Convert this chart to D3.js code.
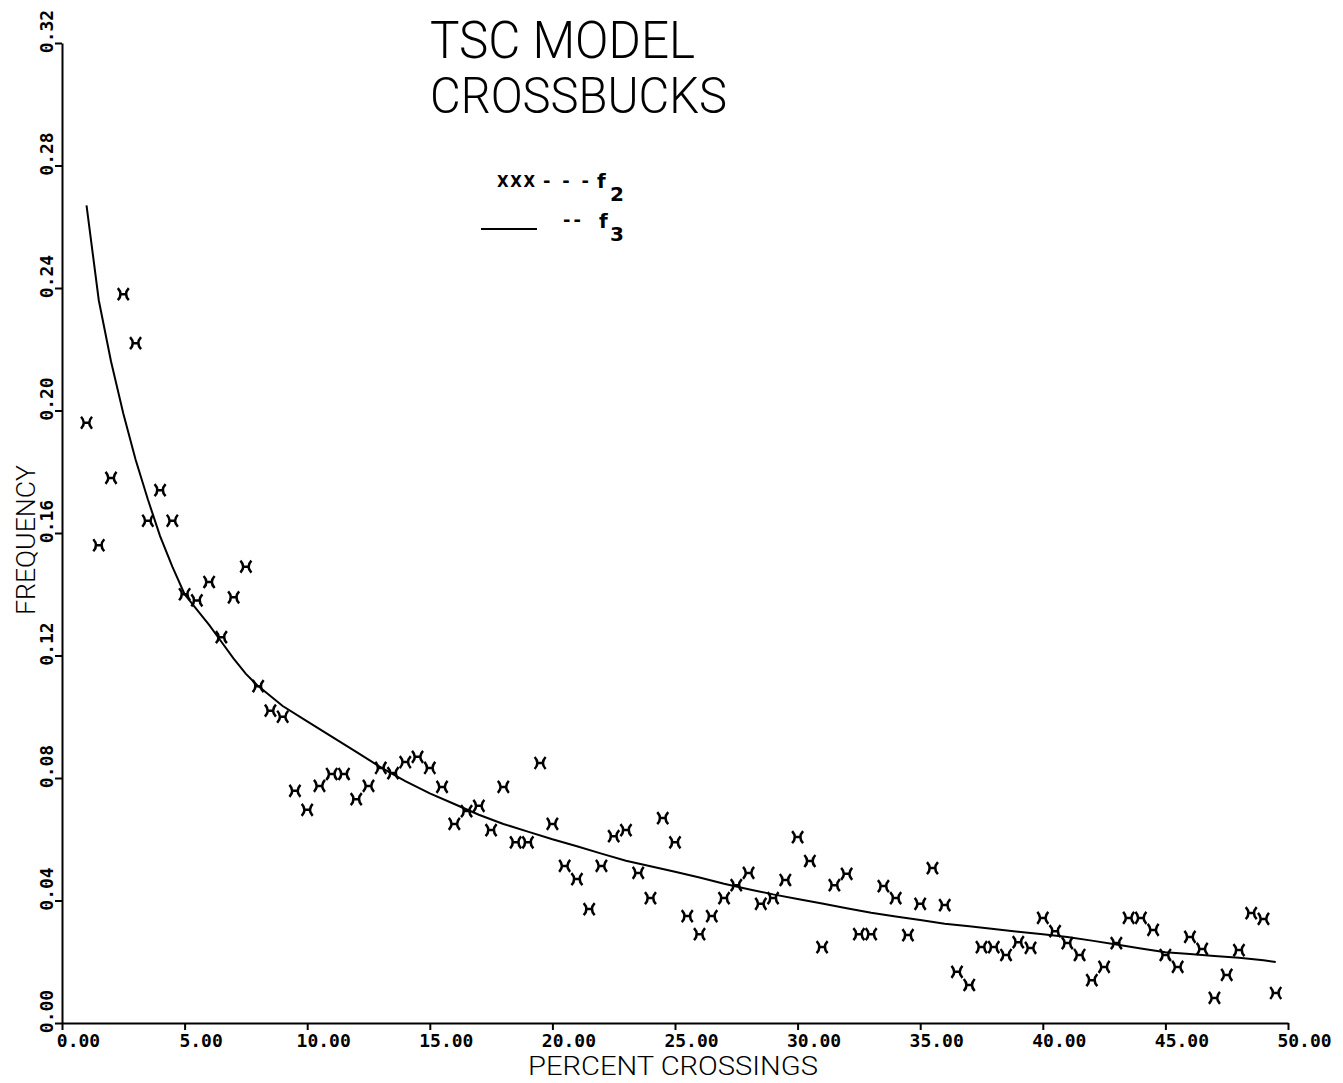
<!DOCTYPE html>
<html>
<head>
<meta charset="utf-8">
<script src="https://cdn.jsdelivr.net/npm/d3@7"></script>
<style>
  body { margin: 0; background: #fff; }
  svg { display: block; }
  .axis path, .axis line { stroke: #000; stroke-width: 2; }
  .axis text { font-family: "DejaVu Sans Mono", monospace; font-size: 18px; font-weight: bold; fill: #000; }
</style>
</head>
<body>
<svg id="chart"></svg>
<script>
// percent crossings where f2 was observed
var pct = [1.0, 1.5, 2.0, 2.5, 3.0, 3.5, 4.0, 4.5, 5.0, 5.5, 6.0, 6.5, 7.0, 7.5, 8.0, 8.5, 9.0, 9.5, 10.0, 10.5,
  11.0, 11.5, 12.0, 12.5, 13.0, 13.5, 14.0, 14.5, 15.0, 15.5, 16.0, 16.5, 17.0, 17.5, 18.0, 18.5, 19.0, 19.5, 20.0, 20.5,
  21.0, 21.5, 22.0, 22.5, 23.0, 23.5, 24.0, 24.5, 25.0, 25.5, 26.0, 26.5, 27.0, 27.5, 28.0, 28.5, 29.0, 29.5, 30.0, 30.5,
  31.0, 31.5, 32.0, 32.5, 33.0, 33.5, 34.0, 34.5, 35.0, 35.5, 36.0, 36.5, 37.0, 37.5, 38.0, 38.5, 39.0, 39.5, 40.0, 40.5,
  41.0, 41.5, 42.0, 42.5, 43.0, 43.5, 44.0, 44.5, 45.0, 45.5, 46.0, 46.5, 47.0, 47.5, 48.0, 48.5, 49.0, 49.5];

// f2 : observed frequency (the x marks)
var freqF2 = [0.196, 0.156, 0.178, 0.238, 0.222, 0.164, 0.174, 0.164, 0.140, 0.138, 0.144, 0.126, 0.139, 0.149, 0.110, 0.102,
  0.100, 0.0758, 0.0696, 0.0774, 0.0813, 0.0813, 0.0731, 0.0774, 0.0833, 0.0816, 0.0852, 0.0869, 0.0833, 0.0771,
  0.065, 0.0692, 0.0709, 0.063, 0.0771, 0.059, 0.059, 0.0849, 0.065, 0.0513, 0.047, 0.0372, 0.0513, 0.061, 0.063,
  0.049, 0.0408, 0.0669, 0.059, 0.0349, 0.029, 0.0349, 0.0408, 0.045, 0.049, 0.0389, 0.0408, 0.0467, 0.0607, 0.0529,
  0.0248, 0.045, 0.0487, 0.029, 0.029, 0.0447, 0.0408, 0.0287, 0.0389, 0.0506, 0.0385, 0.0167, 0.0124, 0.0248, 0.0248,
  0.0222, 0.0264, 0.0245, 0.0343, 0.030, 0.0261, 0.0222, 0.014, 0.0183, 0.0261, 0.0343, 0.0343, 0.0304, 0.0222, 0.0183,
  0.0281, 0.0242, 0.0082, 0.0157, 0.0238, 0.0359, 0.034, 0.0098];

// f3 : model curve
var curvePct = [1.0, 1.5, 2.0, 2.5, 3.0, 3.5, 4.0, 4.5, 5.0, 5.5, 6.0, 6.5, 7.0, 7.5, 8.0, 9.0, 10.0, 11.0, 12.0, 13.0,
  14.0, 15.0, 16.0, 17.0, 18.0, 19.0, 20.0, 21.0, 22.0, 23.0, 24.0, 25.0, 26.0, 27.0, 28.0, 29.0, 30.0, 31.0, 32.0,
  33.0, 34.0, 35.0, 36.0, 37.0, 38.0, 39.0, 40.0, 41.0, 42.0, 43.0, 44.0, 45.0, 46.0, 47.0, 48.0, 49.0, 49.5];
var curveF3 = [0.267, 0.236, 0.216, 0.199, 0.184, 0.171, 0.159, 0.149, 0.140, 0.135, 0.130, 0.1245, 0.119, 0.114, 0.110,
  0.1035, 0.0985, 0.0935, 0.0885, 0.0835, 0.079, 0.075, 0.0715, 0.068, 0.065, 0.0625, 0.060, 0.0577, 0.0553, 0.053,
  0.0512, 0.0494, 0.0475, 0.0455, 0.0437, 0.042, 0.0405, 0.039, 0.0375, 0.036, 0.0348, 0.0336, 0.0324, 0.0316, 0.0307,
  0.0298, 0.029, 0.0281, 0.0269, 0.0256, 0.0243, 0.0231, 0.0225, 0.0219, 0.0213, 0.0205, 0.0199];

var xTicks = [0, 5, 10, 15, 20, 25, 30, 35, 40, 45, 50];
var xTickLabels = ["0.00", "5.00", "10.00", "15.00", "20.00", "25.00", "30.00", "35.00", "40.00", "45.00", "50.00"];
var yTicks = [0, 0.04, 0.08, 0.12, 0.16, 0.20, 0.24, 0.28, 0.32];
var yTickLabels = ["0.00", "0.04", "0.08", "0.12", "0.16", "0.20", "0.24", "0.28", "0.32"];

var W = 1343, H = 1083;
var svg = d3.select("#chart").attr("width", W).attr("height", H);

var x = d3.scaleLinear().domain([0, 50]).range([62, 1288]);
var y = d3.scaleLinear().domain([0, 0.32]).range([1023, 43]);

// x axis
var gx = svg.append("g")
    .attr("class", "axis")
    .attr("transform", "translate(0," + y(0) + ")")
    .call(d3.axisBottom(x).tickValues(xTicks).tickSize(7).tickSizeOuter(0)
      .tickFormat(function(d, i) { return xTickLabels[i]; }));
gx.selectAll("text").attr("y", 11).attr("dx", 16);

// y axis, labels turned to read upward
var gy = svg.append("g")
    .attr("class", "axis")
    .attr("transform", "translate(" + x(0) + ",0)")
    .call(d3.axisLeft(y).tickValues(yTicks).tickSize(7).tickSizeOuter(0)
      .tickFormat(function(d, i) { return yTickLabels[i]; }));
gy.selectAll("text")
    .attr("transform", "rotate(-90)")
    .attr("text-anchor", "middle")
    .attr("x", 12)
    .attr("y", -9)
    .attr("dy", 0);

// f3 line
var line = d3.line()
    .x(function(d, i) { return x(curvePct[i]); })
    .y(function(d) { return y(d); });
svg.append("path")
    .datum(curveF3)
    .attr("fill", "none")
    .attr("stroke", "#000")
    .attr("stroke-width", 2)
    .attr("d", line);

// plotter style x mark
var markPath = "M-5.5,-6 Q0,0 -5.5,6 M5.5,-6 Q0,0 5.5,6 M-2.5,0 L2.5,0";
svg.append("g").selectAll("path.mark")
    .data(freqF2)
    .enter().append("path")
    .attr("class", "mark")
    .attr("transform", function(d, i) { return "translate(" + x(pct[i]) + "," + y(d) + ")"; })
    .attr("d", markPath)
    .attr("fill", "none")
    .attr("stroke", "#000")
    .attr("stroke-width", 2.5);

// titles
var titleFont = "Roboto, 'Liberation Sans', sans-serif";
svg.append("text").attr("x", 430).attr("y", 58)
    .attr("font-family", titleFont).attr("font-weight", 300).attr("font-size", 52)
    .attr("textLength", 265).attr("lengthAdjust", "spacingAndGlyphs")
    .text("TSC MODEL");
svg.append("text").attr("x", 430).attr("y", 113)
    .attr("font-family", titleFont).attr("font-weight", 300).attr("font-size", 50)
    .attr("textLength", 297).attr("lengthAdjust", "spacingAndGlyphs")
    .text("CROSSBUCKS");

// legend
var legFont = "'DejaVu Sans', sans-serif";
function legText(tx, ty, size, s, len) {
  var t = svg.append("text").attr("x", tx).attr("y", ty)
      .attr("font-family", legFont).attr("font-size", size).attr("font-weight", "bold")
      .text(s);
  if (len) t.attr("textLength", len).attr("lengthAdjust", "spacing");
  return t;
}
legText(497, 187, 15, "XXX", 38);
legText(543, 187, 18, "---", 46);
legText(597, 188, 20, "f");
legText(610, 201, 20, "2");
svg.append("line")
    .attr("x1", 481).attr("x2", 537).attr("y1", 229).attr("y2", 229)
    .attr("stroke", "#000").attr("stroke-width", 1.8);
legText(563, 226, 18, "--", 18);
legText(599, 228, 20, "f");
legText(610, 241, 20, "3");

// axis titles
svg.append("text")
    .attr("transform", "translate(35,540) rotate(-90)")
    .attr("text-anchor", "middle")
    .attr("font-family", titleFont).attr("font-weight", 300).attr("font-size", 26)
    .attr("textLength", 150).attr("lengthAdjust", "spacingAndGlyphs")
    .text("FREQUENCY");
svg.append("text")
    .attr("x", 528).attr("y", 1075)
    .attr("font-family", titleFont).attr("font-weight", 300).attr("font-size", 25)
    .attr("textLength", 290).attr("lengthAdjust", "spacingAndGlyphs")
    .text("PERCENT CROSSINGS");
</script>
</body>
</html>
